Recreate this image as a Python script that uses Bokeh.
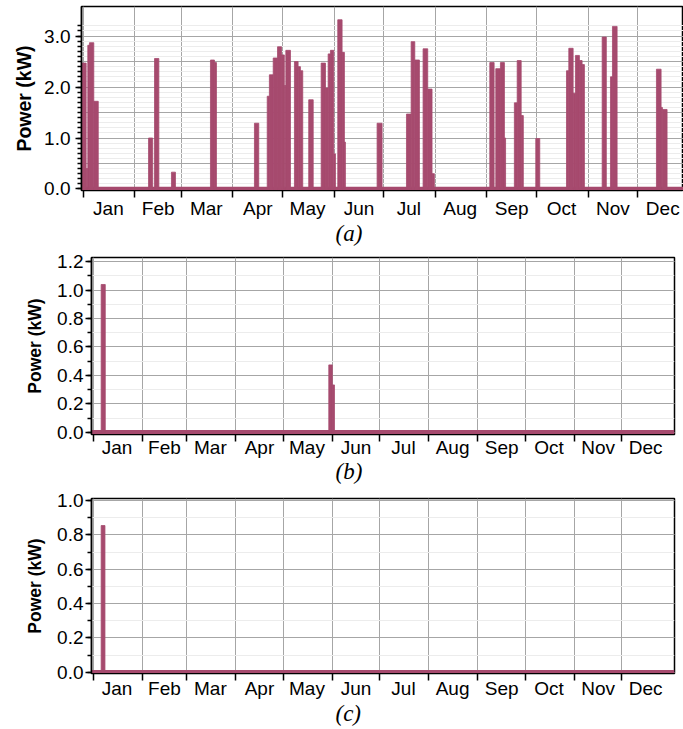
import numpy as np
from bokeh.plotting import figure
from bokeh.layouts import column
from bokeh.models import FixedTicker, Range1d, Title, NumeralTickFormatter
from bokeh.embed import file_html
from bokeh.resources import INLINE

# ---------------- data ----------------
months = ["Jan", "Feb", "Mar", "Apr", "May", "Jun", "Jul", "Aug", "Sep", "Oct", "Nov", "Dec"]
month_start_day = [0, 31, 59, 90, 120, 151, 181, 212, 243, 273, 304, 334]
month_mid_day = [15, 45, 74, 105, 135, 166, 196, 227, 258, 288, 319, 349]

# (a) power events: start day, end day, power (kW)
a_start = [-1.0, 1.6, 2.6, 3.6, 6.2, 39.2, 42.8, 53.0, 76.5, 78.9, 103.0, 110.7, 112.0, 114.3,
           116.9, 119.3, 121.0, 121.9, 127.1, 129.3, 130.7, 135.7, 143.2, 145.8, 147.4, 148.8,
           150.8, 153.2, 155.8, 157.2, 176.9, 194.6, 197.4, 199.6, 204.6, 207.4, 210.0, 244.8,
           248.4, 251.2, 253.6, 259.6, 261.3, 263.7, 272.5, 291.0, 292.4, 295.0, 296.4, 298.8,
           300.4, 312.5, 317.5, 318.7, 345.2, 348.0, 348.8]
a_end = [1.6, 2.6, 3.6, 6.2, 8.9, 41.7, 45.4, 55.4, 78.9, 80.1, 105.6, 112.0, 114.3, 116.9,
         119.3, 121.0, 121.9, 124.7, 129.3, 130.7, 132.1, 138.4, 145.8, 147.4, 148.8, 150.8,
         151.8, 155.8, 157.2, 157.8, 179.9, 197.4, 199.6, 202.4, 207.4, 210.0, 211.4, 247.4,
         251.2, 253.6, 254.3, 261.3, 263.7, 265.0, 274.9, 292.4, 295.0, 296.4, 298.8, 300.4,
         301.8, 315.0, 318.7, 321.5, 348.0, 348.8, 351.6]
a_kw = [2.47, 0.40, 2.82, 2.87, 1.72, 1.00, 2.56, 0.33, 2.53, 2.48, 1.29, 1.82, 2.24, 2.57,
        2.79, 2.63, 2.03, 2.72, 2.50, 2.40, 2.32, 1.75, 2.47, 1.98, 2.65, 2.72, 0.69, 3.32,
        2.68, 0.92, 1.29, 1.47, 2.89, 2.53, 2.75, 1.96, 0.30, 2.48, 2.36, 2.48, 1.00, 1.69,
        2.52, 1.44, 0.99, 2.32, 2.76, 1.88, 2.62, 2.52, 2.44, 2.98, 2.20, 3.19, 2.35, 1.60,
        1.56]

# (b)
b_start = [5.0, 148.8, 151.0]
b_end = [7.6, 151.0, 152.4]
b_kw = [1.04, 0.474, 0.333]

# (c)
c_start = [5.0]
c_end = [7.4]
c_kw = [0.854]

baseline_kw = 0.0

a_yticks = [0.0, 1.0, 2.0, 3.0]
b_yticks = [0.0, 0.2, 0.4, 0.6, 0.8, 1.0, 1.2]
c_yticks = [0.0, 0.2, 0.4, 0.6, 0.8, 1.0]

y_title = "Power (kW)"

BAR = "#a64a6e"
GRID = "#a6a6a6"
MINOR_GRID = "#ececec"
FONT = "Liberation Sans"


def make_panel(starts, ends, kws, yticks, y_lo, y_hi, x_lo, x_hi, grid_step, minor_step,
               height, width, border_left, border_right, border_top, border_bottom,
               caption, cap_offset, tick_font, label_font, ylab_standoff, title_standoff,
               cap_standoff, xlab_standoff):
    p = figure(width=width, height=height, output_backend="svg", toolbar_location=None,
               x_range=Range1d(x_lo, x_hi), y_range=Range1d(y_lo, y_hi),
               min_border_left=border_left, min_border_right=border_right,
               min_border_top=border_top, min_border_bottom=border_bottom,
               frame_align=False)
    p.background_fill_color = "white"
    p.border_fill_color = "white"
    p.outline_line_color = "black"
    p.outline_line_width = 1.5

    # grids
    p.xgrid.ticker = FixedTicker(ticks=month_start_day)
    p.xgrid.grid_line_color = GRID
    p.xgrid.grid_line_width = 1
    ymax = yticks[-1] + 0.3
    p.ygrid.ticker = FixedTicker(ticks=list(np.arange(0, ymax, grid_step)),
                                 minor_ticks=list(np.arange(0, ymax, minor_step)))
    p.ygrid.grid_line_color = GRID
    p.ygrid.minor_grid_line_color = MINOR_GRID

    # x axis: labels at month mids, tick marks at month boundaries
    xa = p.xaxis[0]
    xa.ticker = FixedTicker(ticks=month_mid_day, minor_ticks=month_start_day)
    xa.major_label_overrides = {d: m for d, m in zip(month_mid_day, months)}
    xa.major_tick_out = 0
    xa.major_tick_in = 0
    xa.minor_tick_out = 7
    xa.minor_tick_in = 0
    xa.minor_tick_line_color = "black"
    xa.minor_tick_line_width = 1.5
    xa.axis_line_color = "black"
    xa.major_label_standoff = xlab_standoff
    xa.major_label_text_font = FONT
    xa.major_label_text_font_size = tick_font
    xa.major_label_text_color = "black"

    # y axis
    ya = p.yaxis[0]
    ya.ticker = FixedTicker(ticks=yticks, minor_ticks=list(np.arange(0, ymax, 0.1)))
    ya.formatter = NumeralTickFormatter(format="0.0")
    ya.major_tick_out = 6
    ya.major_tick_in = 0
    ya.minor_tick_out = 4
    ya.minor_tick_in = 0
    ya.major_tick_line_width = 1.5
    ya.minor_tick_line_width = 1.5
    ya.axis_line_width = 1.5
    ya.major_label_standoff = ylab_standoff
    ya.major_label_text_font = FONT
    ya.major_label_text_font_size = tick_font
    ya.major_label_text_color = "black"
    ya.axis_label = y_title
    ya.axis_label_text_font = FONT
    ya.axis_label_text_font_style = "bold"
    ya.axis_label_text_font_size = label_font
    ya.axis_label_standoff = title_standoff
    ya.axis_label_text_color = "black"

    # baseline
    p.line(x=[x_lo, x_hi], y=[baseline_kw, baseline_kw], line_color=BAR, line_width=4.5)
    # bars
    p.quad(left=starts, right=ends, bottom=[baseline_kw] * len(kws), top=kws,
           fill_color=BAR, line_color=BAR, line_width=0.8)

    p.add_layout(Title(text=caption, align="left", offset=cap_offset, vertical_align="top",
                       text_font="Liberation Serif", text_font_style="italic",
                       text_font_size="23px", text_color="black",
                       standoff=cap_standoff), "below")
    return p


pa = make_panel(a_start, a_end, a_kw, a_yticks, -0.03, 3.58, -1.2, 361.5, 0.5, 0.1,
                250, 683, 81, 0, 6, 60, "(a)", 254, "19px", "19.5px", 5, 6, -2, 0)
pb = make_panel(b_start, b_end, b_kw, b_yticks, -0.016, 1.23, -1.1, 367.2, 0.2, 0.1,
                240, 683, 91, 9, 7, 56, "(b)", 244, "19px", "17.5px", 2, 9, -4, -5)
pc = make_panel(c_start, c_end, c_kw, c_yticks, -0.0076, 1.0116, -1.1, 367.2, 0.2, 0.1,
                239, 683, 91, 9, 8, 56, "(c)", 244, "19px", "17.5px", 2, 9, -1, -3)

layout = column(pa, pb, pc, spacing=0)
open("out.html", "w").write(file_html(layout, INLINE))
